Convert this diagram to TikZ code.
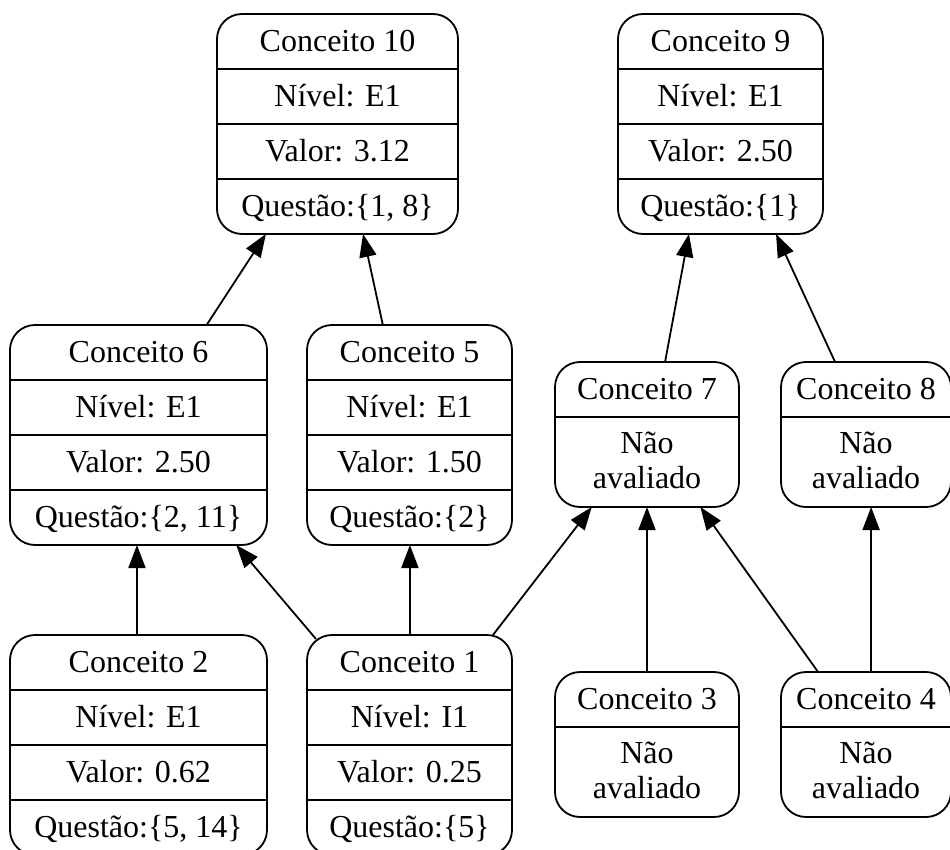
\documentclass[tikz,border=0pt]{standalone}
\usepackage{fontspec}
\setmainfont{Liberation Serif}
\usetikzlibrary{arrows.meta,calc}

\tikzset{
  recbox/.style={draw, line width=1.8pt, rounded corners=25pt, inner sep=0pt, outer sep=0pt},
  recline/.style={line width=1.8pt},
  field/.style={anchor=base, inner sep=0pt, font=\fontsize{32}{38}\selectfont},
  link/.style={line width=1.8pt, -{Triangle[length=23pt,width=17pt]}},
}

% four-field record: name, centre x, top y, width, four field texts
\newcommand{\recfour}[8]{%
  \node[recbox, minimum width=#4pt, minimum height=220pt] (#1) at (#2,#3+110) {};
  \foreach \k in {55,110,165}{\draw[recline] ($(#1.north west)+(0,\k)$) -- ($(#1.north east)+(0,\k)$);}
  \node[field] (#1-a) at ($(#1.north)+(0,37.5)$) {#5};
  \node[field] (#1-b) at ($(#1.north)+(0,92.5)$) {#6};
  \node[field] (#1-c) at ($(#1.north)+(0,147.5)$) {#7};
  \node[field] (#1-d) at ($(#1.north)+(0,202.5)$) {#8};
}

% two-field record for concepts not yet evaluated
\newcommand{\rectwo}[5]{%
  \node[recbox, minimum width=#4pt, minimum height=145pt] (#1) at (#2,#3+72.5) {};
  \draw[recline] ($(#1.north west)+(0,55)$) -- ($(#1.north east)+(0,55)$);
  \node[field] (#1-a) at ($(#1.north)+(0,37.5)$) {#5};
  \node[field] (#1-b) at ($(#1.north)+(0,91)$) {Não};
  \node[field] (#1-c) at ($(#1.north)+(0,126)$) {avaliado};
}

\begin{document}
\begin{tikzpicture}[x=1pt, y=-1pt]
  \useasboundingbox (0,0) rectangle (950,850);
  \clip (0,0) rectangle (950,850);

  \recfour{c10}{337.5}{14}{241}{Conceito 10}{Nível: E1}{Valor: 3.12}{Questão:\{1, 8\}}
  \recfour{c9}{720.5}{14}{205}{Conceito 9}{Nível: E1}{Valor: 2.50}{Questão:\{1\}}
  \recfour{c6}{138.5}{325}{257}{Conceito 6}{Nível: E1}{Valor: 2.50}{Questão:\{2, 11\}}
  \recfour{c5}{409.5}{325}{205}{Conceito 5}{Nível: E1}{Valor: 1.50}{Questão:\{2\}}
  \recfour{c2}{138.5}{635}{257}{Conceito 2}{Nível: E1}{Valor: 0.62}{Questão:\{5, 14\}}
  \recfour{c1}{409.5}{635}{205}{Conceito 1}{Nível: I1}{Valor: 0.25}{Questão:\{5\}}

  \rectwo{c7}{647}{362}{184}{Conceito 7}
  \rectwo{c8}{866}{362}{170}{Conceito 8}
  \rectwo{c3}{647}{672}{184}{Conceito 3}
  \rectwo{c4}{866}{672}{170}{Conceito 4}

  % dependencies between concepts
  \draw[link] ($(c6.north west)!0.765!(c6.north east)$) -- ($(c10.south west)!0.203!(c10.south east)$);
  \draw[link] ($(c5.north west)!0.37!(c5.north east)$) -- ($(c10.south west)!0.606!(c10.south east)$);
  \draw[link] ($(c7.north west)!0.598!(c7.north east)$) -- ($(c9.south west)!0.346!(c9.south east)$);
  \draw[link] ($(c8.north west)!0.318!(c8.north east)$) -- ($(c9.south west)!0.771!(c9.south east)$);
  \draw[link] ($(c2.north west)!0.494!(c2.north east)$) -- ($(c6.south west)!0.494!(c6.south east)$);
  \draw[link] ($(c1.north west)+(9,4)$) -- ($(c6.south west)!0.88!(c6.south east)$);
  \draw[link] ($(c1.north west)!0.502!(c1.north east)$) -- ($(c5.south west)!0.502!(c5.south east)$);
  \draw[link] ($(c1.north west)!0.907!(c1.north east)$) -- ($(c7.south west)!0.20!(c7.south east)$);
  \draw[link] ($(c3.north west)!0.5!(c3.north east)$) -- ($(c7.south west)!0.5!(c7.south east)$);
  \draw[link] ($(c4.north west)!0.218!(c4.north east)$) -- ($(c7.south west)!0.79!(c7.south east)$);
  \draw[link] ($(c4.north west)!0.53!(c4.north east)$) -- ($(c8.south west)!0.53!(c8.south east)$);
\end{tikzpicture}
\end{document}
